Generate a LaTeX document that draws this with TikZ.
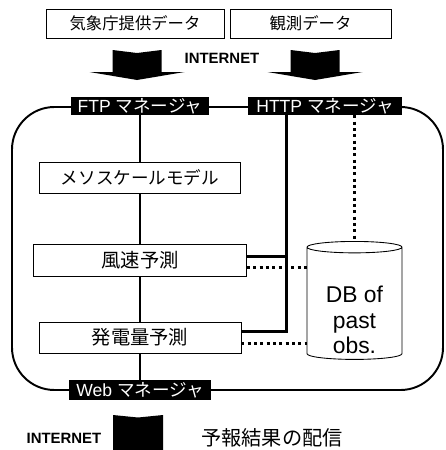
\documentclass[tikz,border=0pt]{standalone}
\usepackage{fontspec}
\setmainfont{Liberation Sans}
\newfontfamily\jp{Noto Sans CJK JP}
\usetikzlibrary{positioning,calc,shapes.geometric}

\begin{document}
\begin{tikzpicture}[
    x=0.02cm, y=-0.02cm,
    srcbox/.style={draw, line width=0.5pt, minimum height=0.58cm, inner sep=0pt, font=\jp\fontsize{9.3}{11}\selectfont},
    mgr/.style={fill=black, text=white, minimum height=0.36cm, inner sep=0pt, font=\fontsize{10}{12}\selectfont},
    proc/.style={draw, line width=0.5pt, fill=white, minimum height=0.62cm, inner sep=0pt, font=\jp\fontsize{11}{13}\selectfont},
    bus/.style={line width=1.7pt},
    dotbus/.style={line width=1.7pt, dash pattern=on 1.7pt off 1.9pt},
    netlabel/.style={font=\bfseries\fontsize{8.5}{10}\selectfont}
]
\useasboundingbox (0,0) rectangle (446,450);

% outer frame
\draw[line width=1.1pt, rounded corners=0.85cm] (12,107) rectangle (443,390);

% data sources
\node[srcbox, minimum width=3.56cm] (jma) at (135,23.5) {気象庁提供データ};
\node[srcbox, minimum width=3.22cm] (obs) at (310.5,23.5) {観測データ};

\foreach \x in {137,315}
  \fill (\x-24.5,50) -- (\x,53) -- (\x+24.5,50) -- (\x+24.5,72) -- (\x+47.5,72)
        -- (\x,80) -- (\x-47.5,72) -- (\x-24.5,72) -- cycle;
\node[netlabel] (net1) at (222,58) {INTERNET};

% managers
\node[mgr, minimum width=2.76cm] (ftp) at (140,106) {FTP {\jp マネージャ}};
\node[mgr, minimum width=3.08cm] (http) at (325,106) {HTTP {\jp マネージャ}};
\node[mgr, minimum width=2.84cm, minimum height=0.4cm] (web) at (140,390) {Web {\jp マネージャ}};

% processing
\node[proc, minimum width=4.02cm, font=\jp\fontsize{10}{12}\selectfont] (meso) at (140,177.5) {メソスケールモデル};
\node[proc, minimum width=4.26cm, minimum height=0.64cm] (wind) at (140,260) {風速予測};
\node[proc, minimum width=4.04cm] (power) at (140,337.5) {発電量予測};

\node[draw, cylinder, shape border rotate=90, aspect=0.2, minimum width=1.9cm, minimum height=2.36cm,
      inner sep=0pt, line width=0.5pt, font=\fontsize{13}{14.5}\selectfont] (db) at (354.5,303.5)
      {\raisebox{-0.5cm}[0.5cm][0.5cm]{\begin{tabular}{@{}c@{}}DB of\\past\\obs.\end{tabular}}};

% FTP bus
\draw[bus] (ftp) -- (meso) -- (wind) -- (power) -- (web);

% HTTP bus
\coordinate (hbus) at ($(http.south west)!0.25!(http.south east)$);
\coordinate (wfeed) at ($(wind.north east)!0.4!(wind.south east)$);
\draw[bus] (hbus) |- ($(power.north east)!0.3!(power.south east)$);
\draw[bus] (wfeed) -- (wfeed -| hbus);

% DB links
\coordinate (hdot) at ($(http.south west)!0.69!(http.south east)$);
\coordinate (wdot) at ($(wind.north east)!0.72!(wind.south east)$);
\coordinate (pdot) at ($(power.north east)!0.68!(power.south east)$);
\draw[dotbus] (hdot) -- (hdot |- db.north);
\draw[dotbus] (wdot) -- (wdot -| db.west);
\draw[dotbus] (pdot) -- (pdot -| db.west);

% delivery
\fill (113,415) -- (138,417.5) -- (163,415) -- (163,450) -- (113,450) -- cycle;
\node[netlabel] (net2) at (64,438) {INTERNET};
\node[font=\jp\fontsize{11.5}{13}\selectfont] (deliver) at (272,438) {予報結果の配信};
\end{tikzpicture}
\end{document}
